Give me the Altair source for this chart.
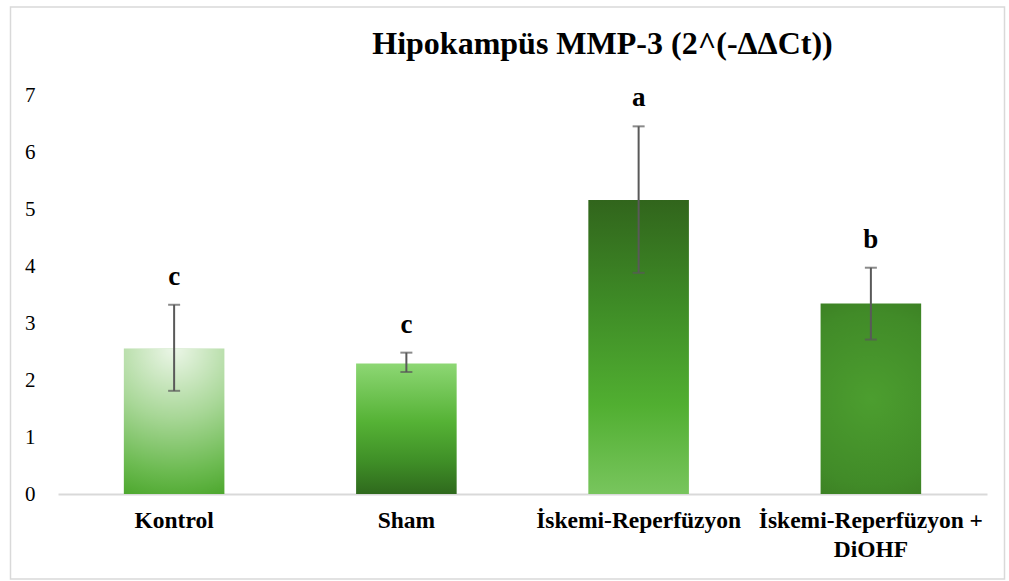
import altair as alt
import pandas as pd

groups = ["Kontrol", "Sham", "İskemi-Reperfüzyon", "İskemi-Reperfüzyon +\nDiOHF"]
means = [2.55, 2.29, 5.16, 3.34]
err_low = [1.81, 2.14, 3.88, 2.71]
err_high = [3.32, 2.48, 6.45, 3.97]
letters = ["c", "c", "a", "b"]
y_ticks = [0, 1, 2, 3, 4, 5, 6, 7]
title_text = "Hipokampüs MMP-3 (2^(-ΔΔCt))"

df = pd.DataFrame({"group": groups, "mean": means, "lo": err_low, "hi": err_high, "letter": letters})

FONT = "Liberation Serif"

x_enc = alt.X(
    "group:N", sort=groups, title=None,
    scale=alt.Scale(paddingInner=0.567, paddingOuter=0.2835),
    axis=alt.Axis(labelExpr="split(datum.label, '\\n')", labelAngle=0, labelFont=FONT,
                  labelFontSize=23.5, labelFontWeight="bold", labelColor="#000000",
                  labelPadding=14, labelLineHeight=29, labelLimit=0, ticks=False,
                  domainColor="#d9d9d9", domainWidth=2),
)
y_scale = alt.Scale(domain=[0, 7], nice=False)
y_enc = alt.Y("mean:Q", scale=y_scale, title=None,
              axis=alt.Axis(values=y_ticks, format="d", grid=False, domain=False, ticks=False,
                            labelFont=FONT, labelFontSize=21, labelColor="#000000",
                            labelPadding=23))

def lin(stops, x1=0, y1=0, x2=0, y2=1):
    return alt.LinearGradient(gradient="linear", x1=x1, y1=y1, x2=x2, y2=y2,
                              stops=[alt.GradientStop(color=c, offset=o) for o, c in stops])

def rad(stops, cx, cy, r):
    return alt.RadialGradient(gradient="radial", x1=cx, y1=cy, r1=0, x2=cx, y2=cy, r2=r,
                              stops=[alt.GradientStop(color=c, offset=o) for o, c in stops])

fills = [
    rad([(0, "#ecf6e8"), (0.45, "#a8d797"), (0.8, "#6dbb52"), (1, "#4ea82f")], 0.5, 0.0, 1.05),
    lin([(0, "#8dd774"), (0.45, "#55b235"), (0.75, "#3f8f27"), (1, "#2f691d")]),
    lin([(0, "#31651c"), (0.35, "#3e8b26"), (0.7, "#51af31"), (1, "#78c55d")]),
    rad([(0, "#4c9e2f"), (0.6, "#418b28"), (1, "#36721e")], 0.5, 0.5, 0.75),
]

base = alt.Chart(df)
layers = []
for g, f in zip(groups, fills):
    layers.append(base.transform_filter(alt.datum.group == g).mark_bar(color=f).encode(x=x_enc, y=y_enc))

err = base.mark_rule(color="#595959", strokeWidth=2).encode(
    x=alt.X("group:N", sort=groups), y=alt.Y("lo:Q", scale=y_scale), y2="hi:Q")
cap_lo = base.mark_tick(color="#595959", thickness=2, size=12).encode(
    x=alt.X("group:N", sort=groups), y=alt.Y("lo:Q", scale=y_scale))
cap_hi = base.mark_tick(color="#595959", thickness=2, size=12).encode(
    x=alt.X("group:N", sort=groups), y=alt.Y("hi:Q", scale=y_scale))
txt = base.mark_text(font=FONT, fontSize=27, fontWeight="bold", color="#000000",
                     baseline="alphabetic", dy=-20).encode(
    x=alt.X("group:N", sort=groups), y=alt.Y("hi:Q", scale=y_scale), text="letter:N")

frame = alt.Chart(pd.DataFrame({"k": [0]})).mark_rect(
    fill=None, stroke="#d9d9d9", strokeWidth=1.5).encode(
    x=alt.value(-47.5), x2=alt.value(946.5), y=alt.value(-88), y2=alt.value(484))

title = alt.Chart(pd.DataFrame({"t": [title_text]})).mark_text(
    font=FONT, fontSize=32, fontWeight="bold", color="#000000",
    align="center", baseline="alphabetic").encode(
    text="t:N", x=alt.value(544.5), y=alt.value(-41))

chart = alt.layer(frame, *layers, err, cap_lo, cap_hi, txt, title).properties(
    width=929, height=399,
    autosize=alt.AutoSizeParams(type="none"),
    padding={"left": 58, "top": 95, "right": 22, "bottom": 87},
    background="#ffffff",
).configure_view(stroke=None)

chart.save("out.html", embed_options={"renderer": "svg", "actions": False})
